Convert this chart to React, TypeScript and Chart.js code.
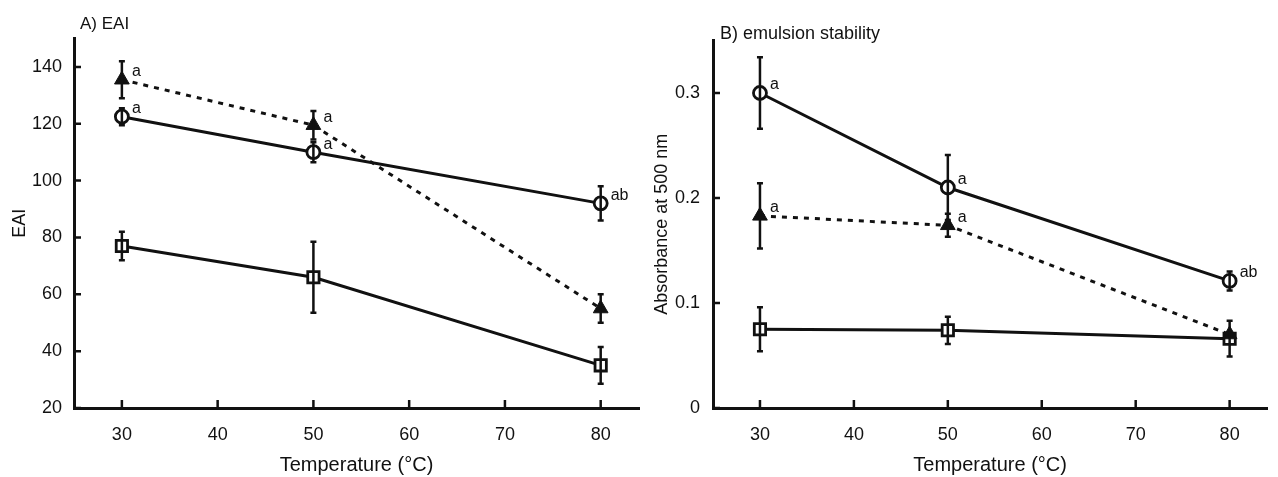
import React, { useEffect, useRef } from 'react';
import { Chart, registerables } from 'chart.js';

Chart.register(...registerables);

const INK = '#111111';
const FONT = '"Liberation Sans", Arial, Helvetica, sans-serif';

// ---- shared axis ----
const temps = [30, 50, 80];
const xTicks = [30, 40, 50, 60, 70, 80];

// ---- Panel A: EAI ----
const eaiCircle = [122.5, 110, 92];
const eaiCircleErr = [3, 3.5, 6];
const eaiCircleLetters = ['a', 'a', 'ab'];
const eaiTriangle = [135.5, 119.5, 55];
const eaiTriangleErr = [6.5, 5, 5];
const eaiTriangleLetters = ['a', 'a', ''];
const eaiSquare = [77, 66, 35];
const eaiSquareErr = [5, 12.5, 6.5];
const eaiSquareLetters = ['', '', ''];
const eaiTicks = [20, 40, 60, 80, 100, 120, 140];

// ---- Panel B: emulsion stability ----
const esCircle = [0.3, 0.21, 0.121];
const esCircleErr = [0.034, 0.031, 0.009];
const esCircleLetters = ['a', 'a', 'ab'];
const esTriangle = [0.183, 0.174, 0.07];
const esTriangleErr = [0.031, 0.011, 0];
const esTriangleLetters = ['a', 'a', ''];
const esSquare = [0.075, 0.074, 0.066];
const esSquareErr = [0.021, 0.013, 0.017];
const esSquareLetters = ['', '', ''];
const esTicks = [0, 0.1, 0.2, 0.3];

type Series = {
  values: number[];
  errors: number[];
  letters: string[];
  style: 'circle' | 'triangle' | 'rect';
  dashed: boolean;
};

type PanelCfg = {
  title: string;
  titleX: number;
  titleY: number;
  titleSize: number;
  yTitle: string;
  yTitlePad: number;
  yMin: number;
  yMax: number;
  yTicks: number[];
  yTickPad: number;
  yAxisWidth: number;
  padTop: number;
  padRight: number;
  series: Series[];
};

const panelA: PanelCfg = {
  title: 'A) EAI',
  titleX: 80,
  titleY: 24,
  titleSize: 17,
  yTitle: 'EAI',
  yTitlePad: 9,
  yMin: 20,
  yMax: 150,
  yTicks: eaiTicks,
  yTickPad: 12,
  yAxisWidth: 74,
  padTop: 38.5,
  padRight: 11,
  series: [
    { values: eaiTriangle, errors: eaiTriangleErr, letters: eaiTriangleLetters, style: 'triangle', dashed: true },
    { values: eaiSquare, errors: eaiSquareErr, letters: eaiSquareLetters, style: 'rect', dashed: false },
    { values: eaiCircle, errors: eaiCircleErr, letters: eaiCircleLetters, style: 'circle', dashed: false },
  ],
};

const panelB: PanelCfg = {
  title: 'B) emulsion stability',
  titleX: 70,
  titleY: 34,
  titleSize: 18,
  yTitle: 'Absorbance at 500 nm',
  yTitlePad: 1,
  yMin: 0,
  yMax: 0.35,
  yTicks: esTicks,
  yTickPad: 13,
  yAxisWidth: 63,
  padTop: 40.5,
  padRight: 2,
  series: [
    { values: esTriangle, errors: esTriangleErr, letters: esTriangleLetters, style: 'triangle', dashed: true },
    { values: esSquare, errors: esSquareErr, letters: esSquareLetters, style: 'rect', dashed: false },
    { values: esCircle, errors: esCircleErr, letters: esCircleLetters, style: 'circle', dashed: false },
  ],
};

function buildChart(canvas: HTMLCanvasElement, cfg: PanelCfg) {
  const decor = {
    id: 'decor',
    afterDatasetsDraw(chart: any) {
      const ctx = chart.ctx;
      const xs = chart.scales.x;
      const ys = chart.scales.y;
      ctx.save();
      ctx.strokeStyle = INK;
      ctx.lineWidth = 2.5;
      ctx.setLineDash([]);
      cfg.series.forEach((s) => {
        s.values.forEach((v, i) => {
          const e = s.errors[i];
          if (!e) return;
          const px = xs.getPixelForValue(temps[i]);
          const top = ys.getPixelForValue(v + e);
          const bot = ys.getPixelForValue(v - e);
          ctx.beginPath();
          ctx.moveTo(px, top);
          ctx.lineTo(px, bot);
          ctx.moveTo(px - 3, top);
          ctx.lineTo(px + 3, top);
          ctx.moveTo(px - 3, bot);
          ctx.lineTo(px + 3, bot);
          ctx.stroke();
        });
      });
      ctx.fillStyle = INK;
      ctx.font = `16px ${FONT}`;
      ctx.textAlign = 'left';
      ctx.textBaseline = 'middle';
      cfg.series.forEach((s) => {
        s.letters.forEach((l, i) => {
          if (!l) return;
          const px = xs.getPixelForValue(temps[i]);
          const py = ys.getPixelForValue(s.values[i]);
          ctx.fillText(l, px + 10, py - 8);
        });
      });
      ctx.restore();
    },
    afterDraw(chart: any) {
      const ctx = chart.ctx;
      const xs = chart.scales.x;
      const ys = chart.scales.y;
      const area = chart.chartArea;
      ctx.save();
      ctx.strokeStyle = INK;
      ctx.lineWidth = 2.5;
      ctx.beginPath();
      xs.ticks.forEach((t: any) => {
        const px = xs.getPixelForValue(t.value);
        ctx.moveTo(px, area.bottom);
        ctx.lineTo(px, area.bottom - 8);
      });
      ys.ticks.forEach((t: any) => {
        const py = ys.getPixelForValue(t.value);
        ctx.moveTo(area.left, py);
        ctx.lineTo(area.left + 7, py);
      });
      ctx.stroke();
      ctx.fillStyle = INK;
      ctx.font = `${cfg.titleSize}px ${FONT}`;
      ctx.textAlign = 'left';
      ctx.textBaseline = 'middle';
      ctx.fillText(cfg.title, cfg.titleX, cfg.titleY);
      ctx.restore();
    },
  };

  const datasets = cfg.series.map((s) => ({
    data: s.values.map((v, i) => ({ x: temps[i], y: v })),
    borderColor: INK,
    borderWidth: 3,
    borderDash: s.dashed ? [5, 6] : [],
    pointStyle: s.style,
    pointRadius: s.style === 'circle' ? 6.5 : s.style === 'triangle' ? 8.5 : 8,
    pointBorderWidth: s.style === 'triangle' ? 1 : 2.8,
    pointBorderColor: INK,
    pointBackgroundColor: s.style === 'triangle' ? INK : '#ffffff',
    fill: false,
    tension: 0,
  }));

  return new Chart(canvas, {
    type: 'line',
    data: { datasets },
    plugins: [decor],
    options: {
      responsive: false,
      animation: false,
      events: [],
      layout: { padding: { left: 0, right: cfg.padRight, top: cfg.padTop, bottom: 0 } },
      plugins: { legend: { display: false }, tooltip: { enabled: false } },
      scales: {
        x: {
          type: 'linear',
          min: 25,
          max: 84,
          afterBuildTicks: (scale: any) => {
            scale.ticks = xTicks.map((v) => ({ value: v }));
          },
          afterFit: (scale: any) => {
            scale.height = 69;
          },
          grid: { display: false, drawTicks: false },
          border: { display: true, color: INK, width: 3 },
          ticks: {
            color: INK,
            font: { size: 18, family: FONT },
            padding: 16,
            maxRotation: 0,
            callback: (v: any) => String(v),
          },
          title: {
            display: true,
            text: 'Temperature (°C)',
            color: INK,
            font: { size: 20, family: FONT },
            padding: { top: 0, bottom: 0 },
          },
        },
        y: {
          type: 'linear',
          min: cfg.yMin,
          max: cfg.yMax,
          afterBuildTicks: (scale: any) => {
            scale.ticks = cfg.yTicks.map((v) => ({ value: v }));
          },
          afterFit: (scale: any) => {
            scale.width = cfg.yAxisWidth;
          },
          grid: { display: false, drawTicks: false },
          border: { display: true, color: INK, width: 3 },
          ticks: {
            color: INK,
            font: { size: 18, family: FONT },
            padding: cfg.yTickPad,
            callback: (v: any) => String(v),
          },
          title: {
            display: true,
            text: cfg.yTitle,
            color: INK,
            font: { size: 18, family: FONT },
            padding: { top: cfg.yTitlePad, bottom: 0 },
          },
        },
      },
    } as any,
  });
}

function Panel({ cfg, left, width }: { cfg: PanelCfg; left: number; width: number }) {
  const ref = useRef<HTMLCanvasElement | null>(null);
  useEffect(() => {
    if (!ref.current) return;
    const chart = buildChart(ref.current, cfg);
    return () => chart.destroy();
  }, [cfg]);
  return (
    <canvas
      ref={ref}
      width={width}
      height={477}
      style={{ position: 'absolute', left, top: 0, width, height: 477 }}
    />
  );
}

export default function App() {
  return (
    <div
      style={{
        position: 'absolute',
        left: 0,
        top: 0,
        width: 1278,
        height: 477,
        background: '#ffffff',
        overflow: 'hidden',
      }}
    >
      <Panel cfg={panelA} left={0} width={650} />
      <Panel cfg={panelB} left={650} width={628} />
    </div>
  );
}
